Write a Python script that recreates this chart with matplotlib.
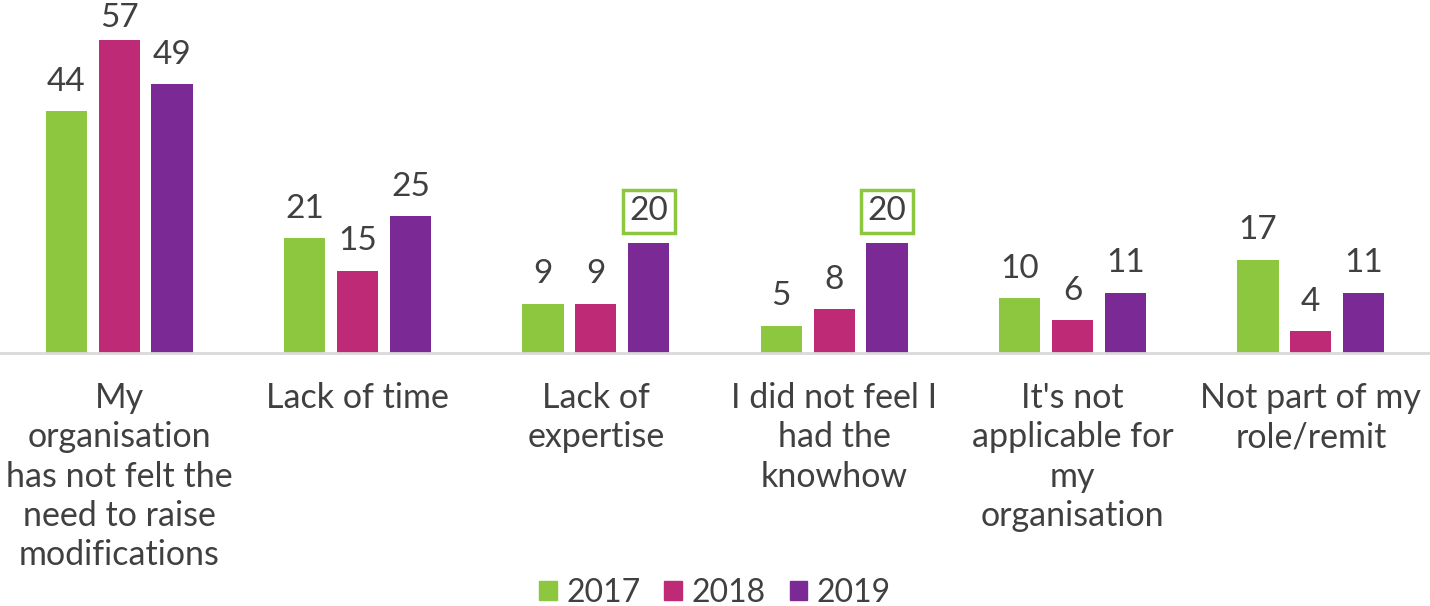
import numpy as np
import matplotlib
matplotlib.use("Agg")
from matplotlib import pyplot as plt
from matplotlib.patches import Patch

categories = ["My\norganisation\nhas not felt the\nneed to raise\nmodifications",
              "Lack of time",
              "Lack of\nexpertise",
              "I did not feel I\nhad the\nknowhow",
              "It's not\napplicable for\nmy\norganisation",
              "Not part of my\nrole/remit"]
years = ["2017", "2018", "2019"]
values_2017 = [44, 21, 9, 5, 10, 17]
values_2018 = [57, 15, 9, 8, 6, 4]
values_2019 = [49, 25, 20, 20, 11, 11]
boxed = [(2, 2), (3, 2)]  # (category, series) with outlined label

colors = ["#8DC63F", "#BE2A75", "#7B2994"]
text_color = "#404040"

plt.rcParams['font.family'] = ['Lato', 'DejaVu Sans']

fig = plt.figure(figsize=(14.3, 6.06), dpi=100)
ax = fig.add_axes([0.0, 0.4175, 1.0, 0.5429])

x = np.arange(len(categories))
step = 0.222
width = 0.173
series = [values_2017, values_2018, values_2019]
for i, vals in enumerate(series):
    pos = x + (i - 1) * step
    bars = ax.bar(pos, vals, width, color=colors[i], label=years[i])
    for j, (b, v) in enumerate(zip(bars, vals)):
        kw = {}
        off = 21
        if (j, i) in boxed:
            kw["bbox"] = dict(boxstyle="square,pad=0.2", facecolor="white",
                              edgecolor=colors[0], linewidth=2.5)
            off = 23
        if v == max(values_2018):
            off = 16
        ax.annotate(str(v), (b.get_x() + b.get_width() / 2, v),
                    xytext=(0, off), textcoords="offset points",
                    ha="center", va="center", fontsize=24, color=text_color, **kw)

ax.set_xlim(-0.5, len(categories) - 0.5)
ax.set_ylim(0, 57 * 329 / 313)
ax.set_yticks([])
ax.set_xticks(x)
ax.set_xticklabels(categories, fontsize=24.5, color=text_color, linespacing=1.28)
ax.tick_params(axis="x", length=0, pad=21)
for s in ["top", "left", "right"]:
    ax.spines[s].set_visible(False)
ax.spines["bottom"].set_color("#D9D9D9")
ax.spines["bottom"].set_linewidth(2)

handles = [Patch(color=c, label=y) for c, y in zip(colors, years)]
fig.legend(handles=handles, loc="center", bbox_to_anchor=(0.5, 0.022), ncol=3,
           frameon=False, fontsize=23, handlelength=0.55, handleheight=0.55,
           handletextpad=0.3, columnspacing=0.75, labelcolor=text_color)

plt.savefig("out.png", dpi=100)
